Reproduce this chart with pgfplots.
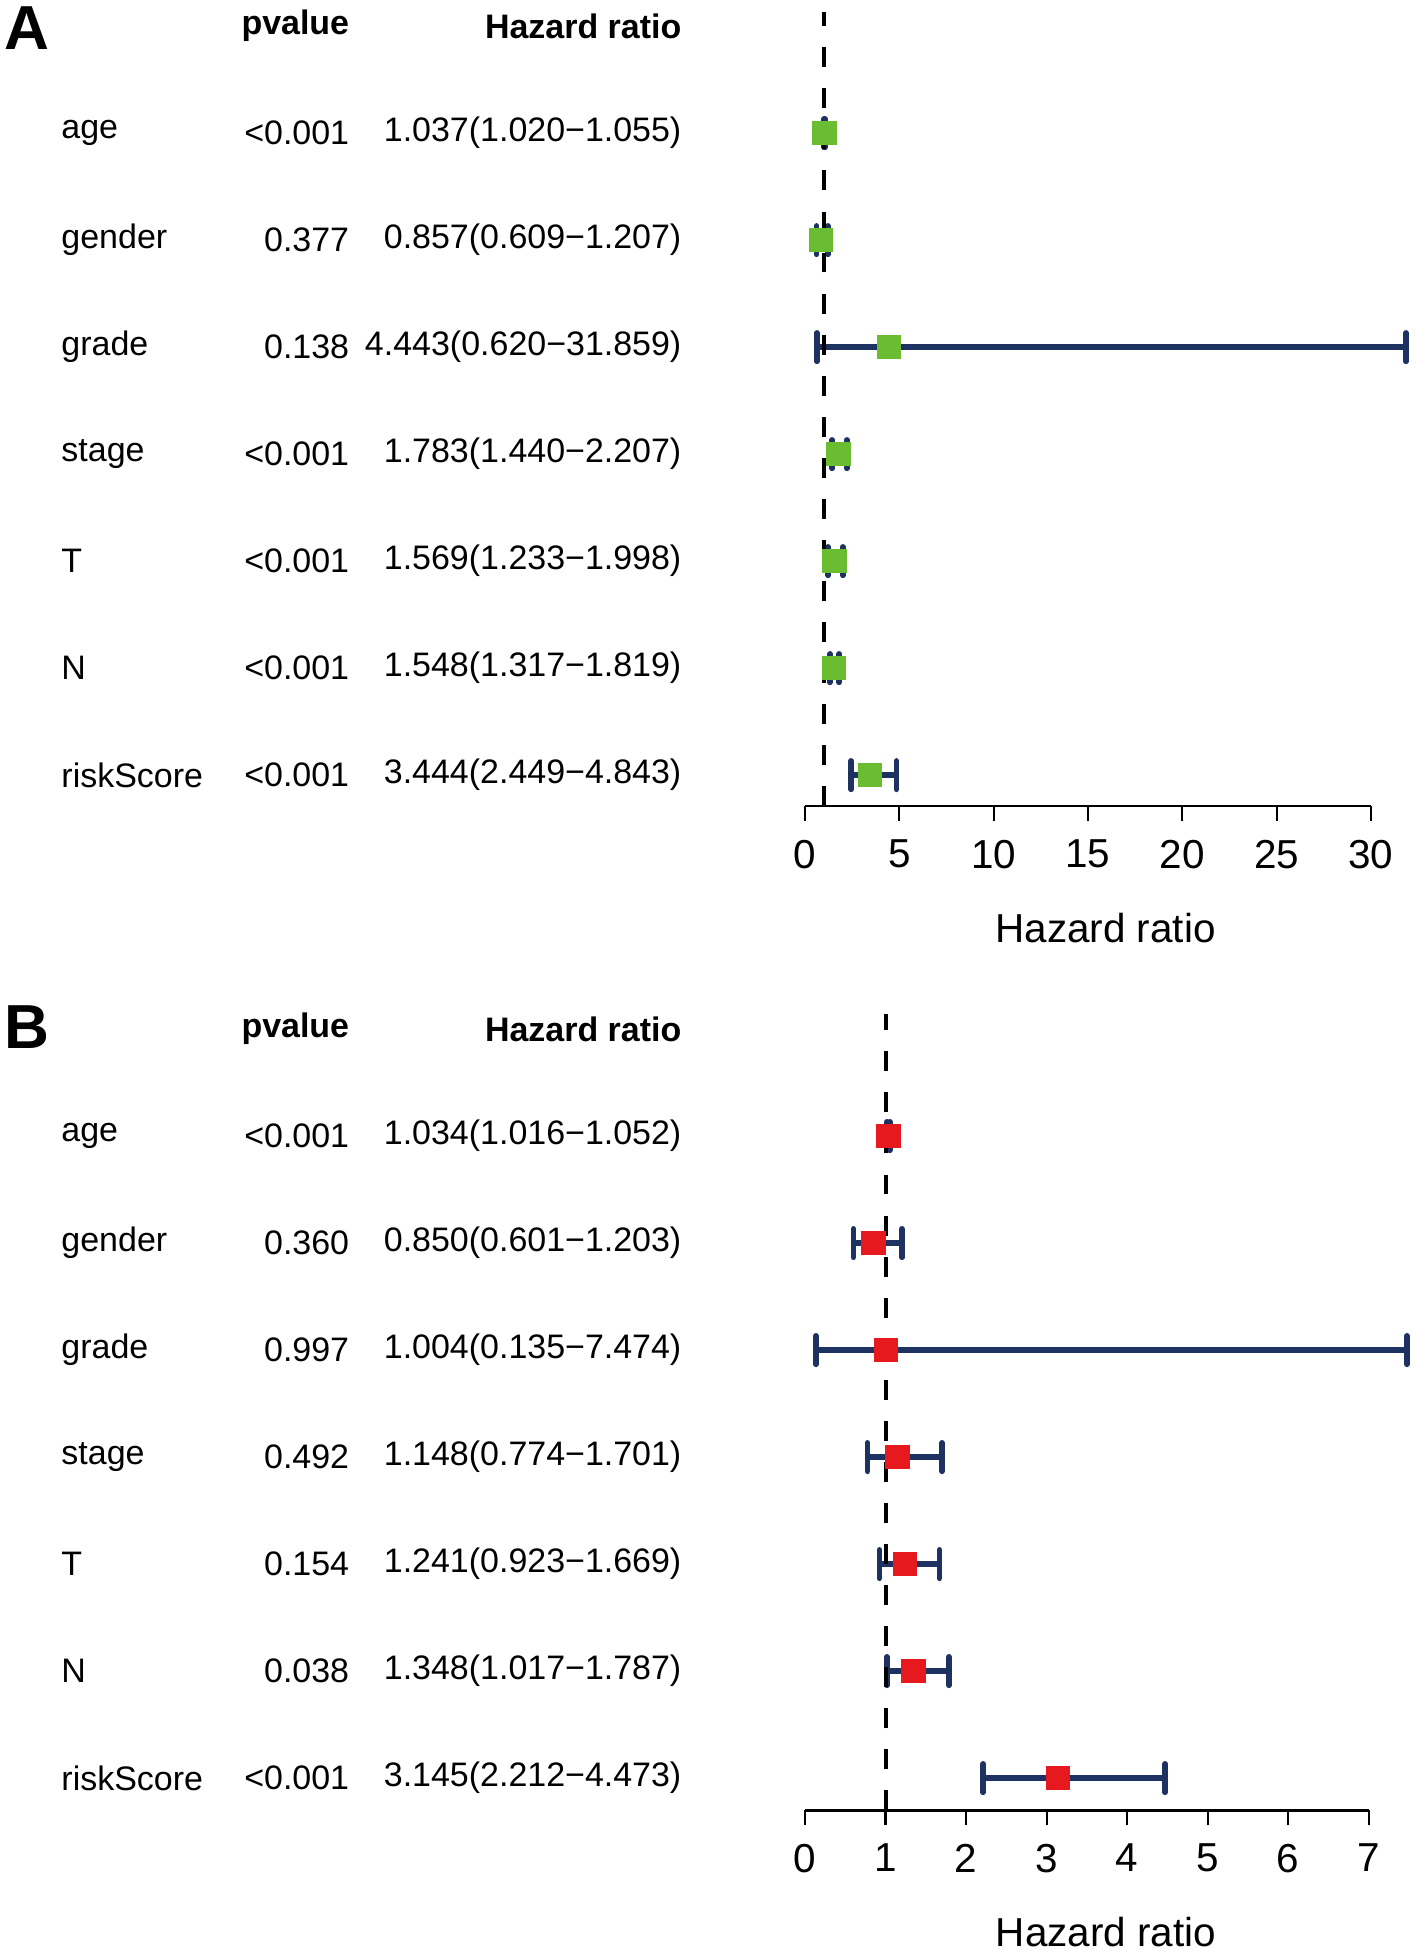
\documentclass[border=0pt]{standalone}
\usepackage{pgfplots}
\usepackage{pgfplotstable}
\pgfplotsset{compat=1.18}
\usepackage{fontspec}
\setmainfont{Liberation Sans}
\definecolor{navy}{RGB}{30,50,98}
\definecolor{boxgreen}{RGB}{106,189,49}
\definecolor{boxred}{RGB}{230,25,30}
\newcommand{\tabfont}{\fontsize{13.65}{16}\selectfont}
\newcommand{\axfont}{\fontsize{16.25}{19}\selectfont}

\pgfplotstableread{
y hr low high
7 1.037 1.020 1.055
6 0.857 0.609 1.207
5 4.443 0.620 31.859
4 1.783 1.440 2.207
3 1.569 1.233 1.998
2 1.548 1.317 1.819
1 3.444 2.449 4.843
}\dataA
\pgfplotstableread{
y hr low high
7 1.034 1.016 1.052
6 0.850 0.601 1.203
5 1.004 0.135 7.474
4 1.148 0.774 1.701
3 1.241 0.923 1.669
2 1.348 1.017 1.787
1 3.145 2.212 4.473
}\dataB

\pgfplotsset{
  forest/.style={
    scale only axis,
    anchor=south west,
    clip=false,
    axis x line*=bottom,
    axis y line=none,
    x axis line style={draw=none},
    ytick=\empty,
    tick align=outside,
    major tick length=6pt,
    xtick style={black, line width=0.9pt},
    xticklabel style={font=\axfont, yshift=-4pt},
    /pgf/number format/assume math mode=true,
    xlabel={Hazard ratio},
    xlabel style={font=\axfont, yshift=-11pt},
  },
  ebars/.style={
    only marks, mark=none,
    error bars/.cd, x dir=both, x explicit,
    error mark=|,
    error bar style={draw=navy, line width=2.6pt, line cap=butt},
    error mark options={draw=navy, line width=2.3pt, mark size=5.7pt, line cap=round},
  },
}

\newcommand{\rowtext}[4]{%
  \node[anchor=west, inner sep=0, font=\tabfont] at ([xshift=-299pt]axis cs:0,#1) {#2};
  \node[anchor=east, inner sep=0, font=\tabfont] at ([xshift=-183pt]axis cs:0,#1) {#3};
  \node[anchor=east, inner sep=0, font=\tabfont] at ([xshift=-49.5pt]axis cs:0,#1) {#4};
}
\newcommand{\headtext}{%
  \node[anchor=east, inner sep=0, font=\tabfont\bfseries] at ([xshift=-183pt]axis cs:0,8) {pvalue};
  \node[anchor=east, inner sep=0, font=\tabfont\bfseries] at ([xshift=-49.5pt]axis cs:0,8) {Hazard ratio};
}

\begin{document}
\begin{tikzpicture}
\useasboundingbox (0,0) rectangle (569pt,784pt);

% Panel A
\begin{axis}[forest,
  at={(323.5pt,460pt)},
  width=241.5pt, height=319pt,
  xmin=0, xmax=31.859, ymin=0.709, ymax=8.128,
  xtick={0,5,10,15,20,25,30},
]
\draw[black, line width=0.9pt] (axis cs:0,0.709) -- (axis cs:30,0.709);
\addplot[ebars] table[x=hr, y=y,
  x error plus expr=\thisrow{high}-\thisrow{hr},
  x error minus expr=\thisrow{hr}-\thisrow{low}] {\dataA};
\addplot[black, line width=1.6pt, dash pattern=on 8pt off 8.5pt] coordinates {(1,0.709) (1,8.128)};
\addplot[only marks, mark=square*, mark size=4.7pt, color=boxgreen] table[x=hr, y=y] {\dataA};
\headtext
\rowtext{7}{age}{<0.001}{1.037(1.020−1.055)}
\rowtext{6}{gender}{0.377}{0.857(0.609−1.207)}
\rowtext{5}{grade}{0.138}{4.443(0.620−31.859)}
\rowtext{4}{stage}{<0.001}{1.783(1.440−2.207)}
\rowtext{3}{T}{<0.001}{1.569(1.233−1.998)}
\rowtext{2}{N}{<0.001}{1.548(1.317−1.819)}
\rowtext{1}{riskScore}{<0.001}{3.444(2.449−4.843)}
\end{axis}

% Panel B
\begin{axis}[forest,
  at={(323.5pt,56.5pt)},
  width=241.85pt, height=320pt,
  xmin=0, xmax=7.474, ymin=0.698, ymax=8.14,
  xtick={0,1,2,3,4,5,6,7},
]
\draw[black, line width=0.9pt] (axis cs:0,0.698) -- (axis cs:7,0.698);
\addplot[ebars] table[x=hr, y=y,
  x error plus expr=\thisrow{high}-\thisrow{hr},
  x error minus expr=\thisrow{hr}-\thisrow{low}] {\dataB};
\addplot[black, line width=1.6pt, dash pattern=on 8pt off 8.5pt] coordinates {(1,0.698) (1,8.14)};
\addplot[only marks, mark=square*, mark size=4.7pt, color=boxred] table[x=hr, y=y] {\dataB};
\headtext
\rowtext{7}{age}{<0.001}{1.034(1.016−1.052)}
\rowtext{6}{gender}{0.360}{0.850(0.601−1.203)}
\rowtext{5}{grade}{0.997}{1.004(0.135−7.474)}
\rowtext{4}{stage}{0.492}{1.148(0.774−1.701)}
\rowtext{3}{T}{0.154}{1.241(0.923−1.669)}
\rowtext{2}{N}{0.038}{1.348(1.017−1.787)}
\rowtext{1}{riskScore}{<0.001}{3.145(2.212−4.473)}
\end{axis}

\node[anchor=north west, inner sep=0, font=\fontsize{25}{28}\selectfont\bfseries] at (1.5pt,781.5pt) {A};
\node[anchor=north west, inner sep=0, font=\fontsize{25}{28}\selectfont\bfseries] at (1.5pt,380pt) {B};
\end{tikzpicture}
\end{document}
